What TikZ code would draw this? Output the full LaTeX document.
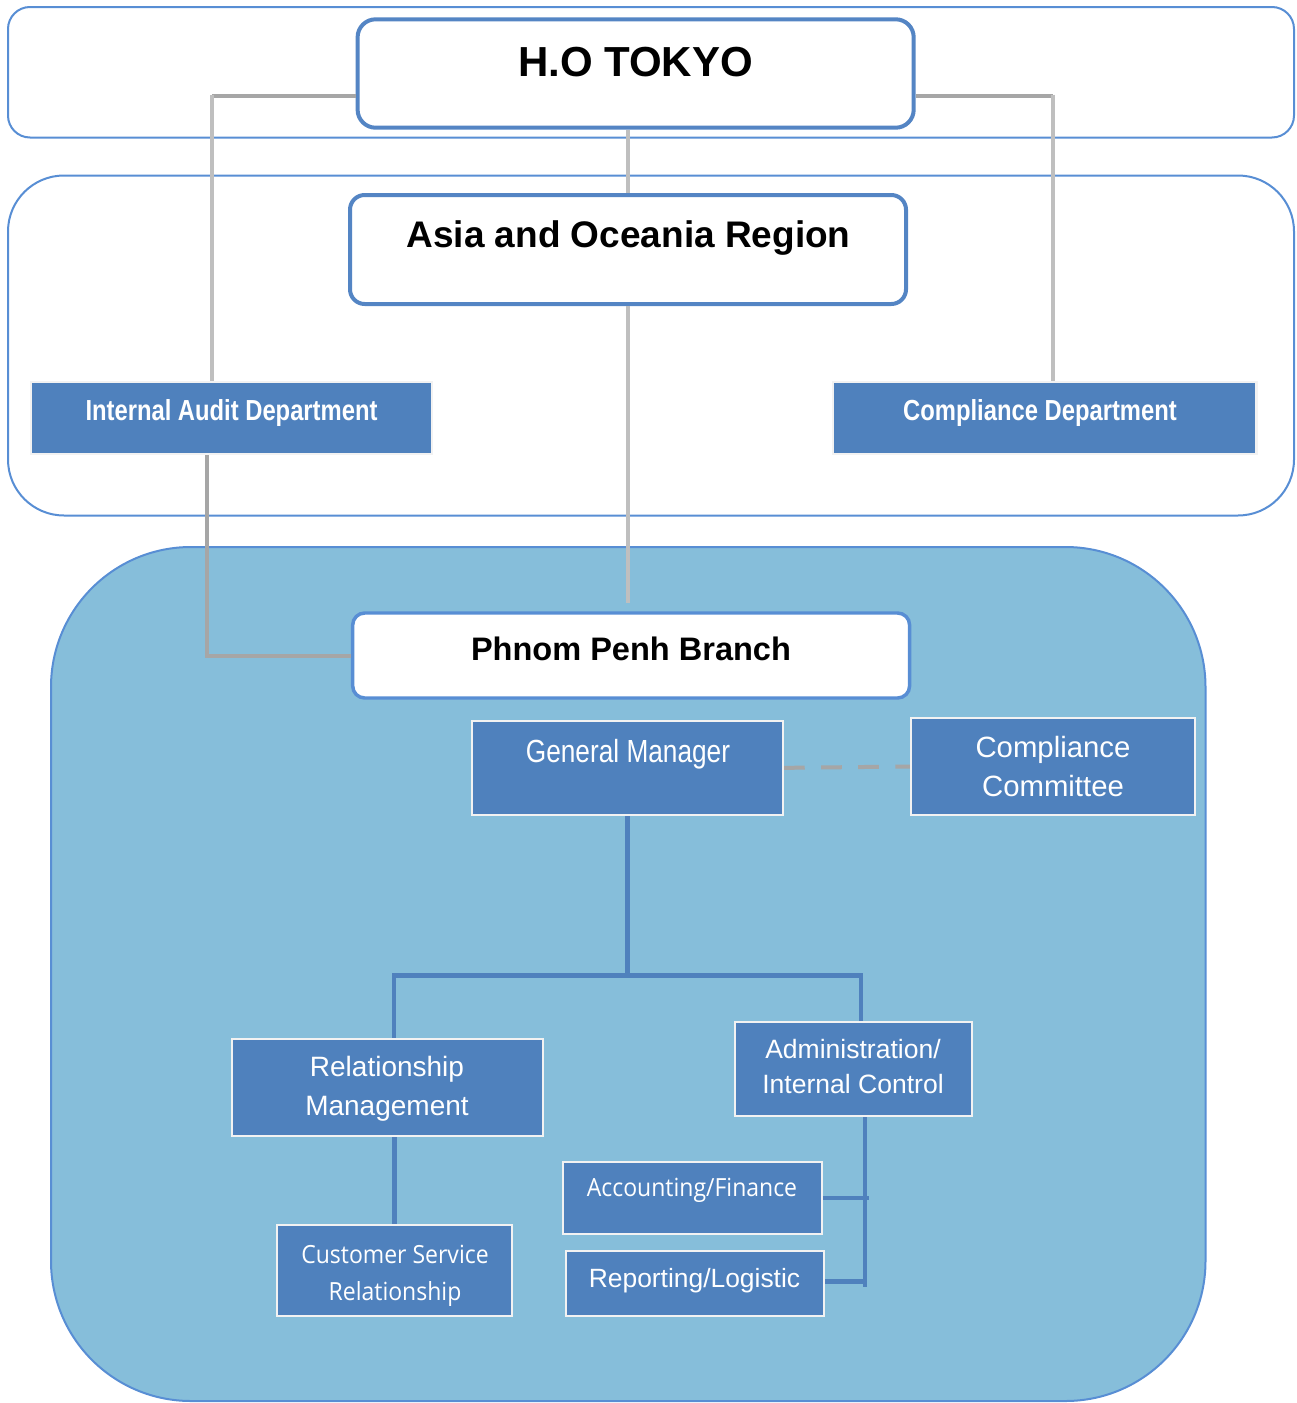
\documentclass[tikz,border=0pt]{standalone}
\usepackage{fontspec}
\setmainfont{Liberation Sans}
\newfontfamily\narrowfont[FakeStretch=0.82]{Liberation Sans}
\newfontfamily\osfont[FakeStretch=0.92]{Open Sans}
\usetikzlibrary{fit,calc}
\definecolor{boxblue}{RGB}{79,129,189}
\definecolor{regionfill}{RGB}{134,190,218}
\definecolor{edgeblue}{RGB}{88,142,212}
\definecolor{hoedge}{RGB}{84,133,196}
\definecolor{gdark}{RGB}{166,166,166}
\definecolor{glight}{RGB}{191,191,191}
\definecolor{boxrim}{RGB}{242,242,242}
\newcommand\setfs[1]{\fontsize{#1}{#1}\selectfont}
\begin{document}
\begin{tikzpicture}[x=0.75pt,y=-0.75pt,
  container/.style={draw=edgeblue, line width=1.5pt},
  whitebox/.style={inner sep=0pt, draw=hoedge, fill=white, line width=3pt},
  bluebox/.style={inner sep=0pt, draw=boxrim, fill=boxblue, line width=1.6pt},
  lbl/.style={inner sep=0pt, anchor=base, text=white},
  blbl/.style={inner sep=0pt, anchor=base, text=black, font=\bfseries},
  conn/.style={line width=3pt, draw=gdark},
  lconn/.style={line width=3pt, draw=glight},
  tree/.style={line width=3.4pt, draw=boxblue}]
\useasboundingbox (0,0) rectangle (1296,1403);

% containers
\draw[container, rounded corners=16.5pt] (8,7) rectangle (1294,137.5);
\draw[container, rounded corners=42pt] (8,175.5) rectangle (1294,515.5);
\draw[container, fill=regionfill, rounded corners=105pt] (51,547) rectangle (1205.5,1401);

% box shapes (placed first, connectors drawn afterwards, then redrawn boxes on top)
\node[whitebox, rounded corners=13.5pt, fit={(357.6,19.3)(913.7,127.7)}] (ho) {};
\node[whitebox, rounded corners=11pt, fit={(350,195)(906,304)}] (asia) {};
\node[whitebox, rounded corners=9pt, line width=2.6pt, draw=edgeblue, fit={(352.7,613)(909.6,698)}] (pp) {};
\node[bluebox, fit={(31,382)(432,454)}] (ia) {};
\node[bluebox, fit={(833,382)(1256.5,454)}] (cd) {};
\node[bluebox, fit={(471.7,720.7)(783,815)}] (gm) {};
\node[bluebox, fit={(911,718)(1194.7,815)}] (cc) {};
\node[bluebox, fit={(231.7,1039)(542.7,1136)}] (rm) {};
\node[bluebox, fit={(735,1021.7)(972.3,1116)}] (adm) {};
\node[bluebox, fit={(277,1225)(512,1316)}] (csr) {};
\node[bluebox, fit={(563,1161.7)(821.7,1234)}] (acc) {};
\node[bluebox, fit={(565.7,1250.7)(824,1316)}] (rep) {};

% helper coordinates
\coordinate (hoL) at ($(ho.west)+(0,22.5)$);
\coordinate (hoR) at ($(ho.east)+(0,22.5)$);
\coordinate (iaX) at (211.5,0);
\coordinate (cdX) at (1052.5,0);
\coordinate (iaB) at ($(ia.south)+(-24.5,0)$);
\coordinate (jl) at (394,975.5);
\coordinate (jr) at (861,975.5);
\coordinate (av) at (865,1286.7);
\coordinate (accE) at (869,0);

% gray connectors
\draw[lconn] (asia.north |- ho.south) -- (asia.north);
\draw[lconn, shorten >=6pt] (asia.south) -- (asia.south |- pp.north);
\draw[conn] (hoL) -- (hoL -| iaX);
\draw[lconn] ($(hoL -| iaX)+(0,-1.5)$) -- (iaX |- ia.north);
\draw[conn] (hoR) -- (hoR -| cdX);
\draw[lconn] ($(hoR -| cdX)+(0,-1.5)$) -- (cdX |- cd.north);
\draw[conn] (iaB) |- (pp.west);
\draw[conn] ($(cd.south)+(6,0)$) -- ($(cd.south)+(6,0)$ |- cc.north);
\draw[conn, dash pattern=on 15.5pt off 12.3pt] (gm.east) -- (cc.west);

% blue tree connectors
\draw[tree] (gm.south) -- (gm.south |- jl);
\draw[tree] (jl |- rm.north) -- (jl) -- (jr) -- (jr |- adm.north);
\draw[tree] (csr.north |- rm.south) -- (csr.north);
\draw[tree] (av |- adm.south) -- (av);
\draw[tree] (acc.east) -- (acc.east -| accE);
\draw[tree] (rep.east |- 0,1281.7) -- (av |- 0,1281.7);

% texts
\node[blbl, font=\bfseries\setfs{31.5pt}] (hotxt) at (635.5,76) {H.O TOKYO};
\node[blbl, font=\bfseries\setfs{27.75pt}] (asiatxt) at (628.5,247) {Asia and Oceania Region};
\node[blbl, font=\bfseries\setfs{24.4pt}] (pptxt) at (631,660) {Phnom Penh Branch};
\node[lbl, font=\narrowfont\bfseries\setfs{21.75pt}] (iatxt) at (231.5,420) {Internal Audit Department};
\node[lbl, font=\narrowfont\bfseries\setfs{21.75pt}] (cdtxt) at (1040,420) {Compliance Department};
\node[lbl, font=\narrowfont\setfs{24pt}] (gmtxt) at (628,762.3) {General Manager};
\node[lbl, font=\setfs{22pt}] (cctxta) at (1053,757) {Compliance};
\node[lbl, font=\setfs{22pt}] (cctxtb) at (1053,796) {Committee};
\node[lbl, font=\setfs{21pt}] (rmtxta) at (387,1076.7) {Relationship};
\node[lbl, font=\setfs{21pt}] (rmtxtb) at (387,1115) {Management};
\node[lbl, font=\setfs{19.9pt}] (admtxta) at (853,1058) {Administration/};
\node[lbl, font=\setfs{19.9pt}] (admtxtb) at (853,1093) {Internal Control};
\node[lbl, font=\setfs{19.8pt}] (reptxt) at (694.5,1287.7) {Reporting/Logistic};
\node[lbl, font=\osfont\setfs{18.75pt}] (csrtxta) at (395,1263) {Customer Service};
\node[lbl, font=\osfont\setfs{18.75pt}] (csrtxtb) at (395,1300) {Relationship};
\node[lbl, font=\osfont\setfs{18.75pt}] (acctxt) at (692,1196.7) {Accounting/Finance};
\end{tikzpicture}
\end{document}
